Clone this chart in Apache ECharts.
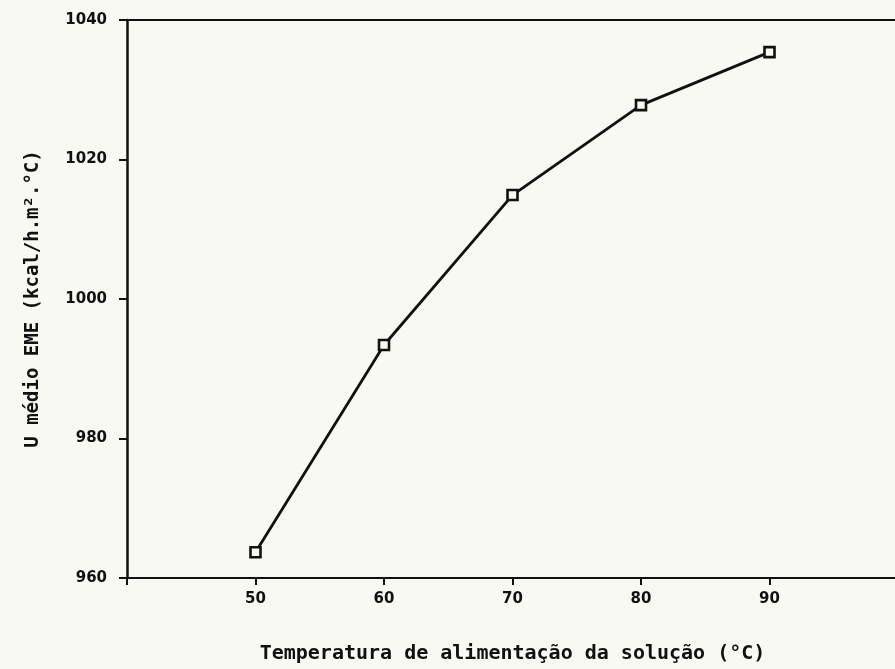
<!DOCTYPE html>
<html>
<head>
<meta charset="utf-8">
<script src="https://cdn.jsdelivr.net/npm/echarts@6/dist/echarts.min.js"></script>
<style>
html,body{margin:0;padding:0;background:#f8f9f2;}
#c{width:895px;height:669px;}
</style>
</head>
<body>
<div id="c"></div>
<script>
const temperatures = [50, 60, 70, 80, 90];
const uValues = [963.7, 993.4, 1014.9, 1027.8, 1035.4];
const xTickValues = [40, 50, 60, 70, 80, 90];
const yTickLabels = {960: '960', 980: '980', 1000: '1000', 1020: '1020', 1040: '1040'};
const xTitle = 'Temperatura de alimentação da solução (°C)';
const yTitle = 'U médio EME (kcal/h.m².°C)';

const chart = echarts.init(document.getElementById('c'), null, {renderer: 'canvas'});
const ink = '#111';
const labelFont = {color: ink, fontFamily: 'DejaVu Sans', fontWeight: 'bold', fontSize: 15};
chart.setOption({
  backgroundColor: '#f8f9f2',
  animation: false,
  grid: {left: 127, right: -3, top: 20, bottom: 91, containLabel: false, outerBoundsMode: 'none'},
  xAxis: [{
    type: 'value', min: 40, max: 100, interval: 10,
    axisLine: {show: true, lineStyle: {color: ink, width: 2}},
    axisTick: {show: true, length: 7, customValues: xTickValues, lineStyle: {color: ink, width: 2}},
    axisLabel: Object.assign({margin: 14, customValues: temperatures, formatter: v => String(v)}, labelFont),
    splitLine: {show: false},
    name: xTitle, nameLocation: 'middle', nameGap: 66,
    nameTextStyle: {color: ink, fontFamily: 'DejaVu Sans Mono', fontWeight: 'bold', fontSize: 20}
  }, {
    type: 'value', min: 40, max: 100, position: 'top',
    axisLine: {show: true, lineStyle: {color: ink, width: 2}},
    axisTick: {show: false}, axisLabel: {show: false}, splitLine: {show: false}
  }],
  yAxis: {
    type: 'value', min: 960, max: 1040, interval: 20,
    axisLine: {show: true, lineStyle: {color: ink, width: 2.5}},
    axisTick: {show: true, length: 8, lineStyle: {color: ink, width: 2}},
    axisLabel: Object.assign({margin: 20, formatter: v => yTickLabels[v] || ''}, labelFont),
    splitLine: {show: false},
    name: yTitle, nameLocation: 'middle', nameGap: 84, nameRotate: 90,
    nameTextStyle: {color: ink, fontFamily: 'DejaVu Sans Mono', fontWeight: 'bold', fontSize: 19}
  },
  series: [{
    type: 'line',
    data: temperatures.map((t, i) => [t, uValues[i]]),
    symbol: 'rect', symbolSize: 10,
    lineStyle: {color: ink, width: 2.8},
    itemStyle: {color: '#f8f9f2', borderColor: ink, borderWidth: 2.6}
  }]
});
</script>
</body>
</html>
